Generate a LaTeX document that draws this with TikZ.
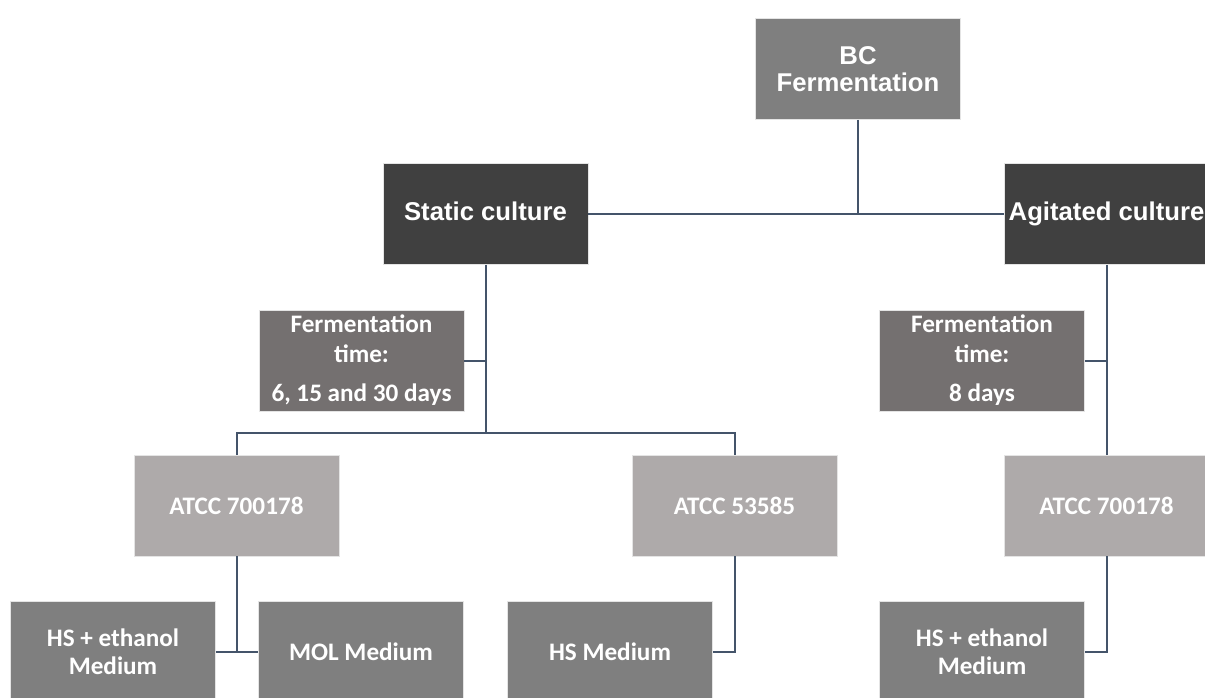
\documentclass[tikz,border=0pt]{standalone}
\usepackage{fontspec}
\newfontfamily\arialf{Liberation Sans}
\newfontfamily\calibf{Carlito}
\definecolor{topgray}{HTML}{7F7F7F}
\definecolor{darkbox}{HTML}{404040}
\definecolor{timegray}{HTML}{747070}
\definecolor{straingray}{HTML}{AEAAAA}
\definecolor{linec}{HTML}{44546A}
\definecolor{edgec}{HTML}{E4E4E4}
\tikzset{
  box/.style={rectangle, minimum width=205pt, minimum height=101pt, inner sep=0pt,
    text=white, draw=edgec, line width=0.8pt, align=center},
  topbox/.style={box, fill=topgray, font=\arialf\bfseries\fontsize{25.7}{27}\selectfont},
  cultbox/.style={box, fill=darkbox, text height=18.5pt, text depth=5pt,
    font=\arialf\bfseries\fontsize{25.7}{27}\selectfont},
  timebox/.style={box, fill=timegray, font=\calibf\bfseries\fontsize{25.2}{30}\selectfont},
  strainbox/.style={box, fill=straingray, font=\calibf\bfseries\fontsize{25.2}{28}\selectfont},
  medbox/.style={box, fill=topgray, font=\calibf\bfseries\fontsize{25.2}{28}\selectfont},
  conn/.style={draw=linec, line width=2pt}
}
\begin{document}
\begin{tikzpicture}[x=1pt, y=-1pt]
\clip (0,0) rectangle (1205,697);
\fill[white] (0,0) rectangle (1205,697);
\node[topbox] (bc) at (858,69) {BC\\Fermentation};
\node[cultbox] (static) at (485.5,214) {Static culture};
\node[cultbox] (agit) at (1106.5,214) {Agitated culture};
\node[timebox] (timeL) at (361.5,360.5) {Fermentation\\time:\\[9pt]6, 15 and 30 days};
\node[timebox] (timeR) at (982,360.5) {Fermentation\\time:\\[9pt]8 days};
\node[strainbox] (atccL) at (236.5,505.5) {ATCC 700178};
\node[strainbox] (atccM) at (734.5,505.5) {ATCC 53585};
\node[strainbox] (atccR) at (1106.5,505.5) {ATCC 700178};
\node[medbox] (hsL) at (113,651.5) {HS + ethanol\\Medium};
\node[medbox] (mol) at (361,651.5) {MOL Medium};
\node[medbox] (hsM) at (610,651.5) {HS Medium};
\node[medbox] (hsR) at (982,651.5) {HS + ethanol\\Medium};
\coordinate (split) at (485.5,433);
\draw[conn] (static.east) -- (agit.west);
\draw[conn] (bc.south) -- (bc.south |- static.east);
\draw[conn] (static.south) -- (split);
\draw[conn] (timeL.east) -- (timeL.east -| static.south);
\draw[conn] (atccL.north) |- (split) -| (atccM.north);
\draw[conn] (agit.south) -- (atccR.north);
\draw[conn] (timeR.east) -- (timeR.east -| agit.south);
\draw[conn] (atccL.south) -- (atccL.south |- hsL.east);
\draw[conn] (hsL.east) -- (mol.west);
\draw[conn] (atccM.south) |- (hsM.east);
\draw[conn] (atccR.south) |- (hsR.east);
\end{tikzpicture}
\end{document}
